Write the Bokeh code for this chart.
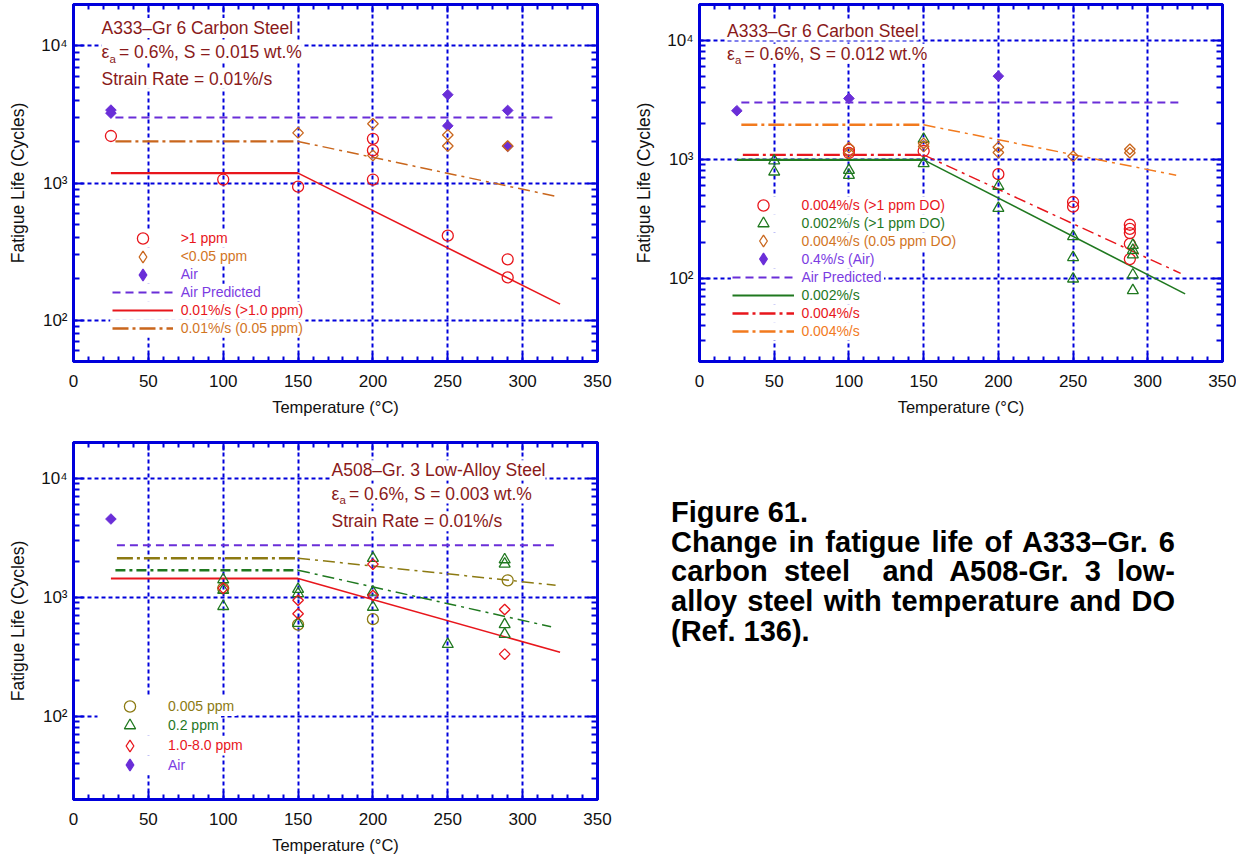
import numpy as np
from bokeh.plotting import figure
from bokeh.models import (FixedTicker, LinearAxis, LogAxis, Range1d, Label,
                          Legend, LegendItem, Div, BoxAnnotation, CustomJSTickFormatter)
from bokeh.core.properties import value
from bokeh.layouts import column, row
from bokeh.embed import file_html
from bokeh.resources import INLINE

# ---------------- axes / ticks ----------------
x_major = [0, 50, 100, 150, 200, 250, 300, 350]
x_minor = [v for v in range(10, 350, 10) if v % 50]
x_grid = [50, 100, 150, 200, 250, 300]
y_major = [100, 1000, 10000]
y_labels = {100: "10\u00b2", 1000: "10\u00b3", 10000: "10\u2074"}
y_minor = [20, 30, 40, 50, 60, 70, 80, 90, 200, 300, 400, 500, 600, 700, 800, 900,
           2000, 3000, 4000, 5000, 6000, 7000, 8000, 9000, 20000]

# ---------------- panel 1: A333-Gr 6, S = 0.015 wt.% ----------------
a_gt1_T = [25, 100, 150, 200, 200, 200, 250, 290, 290]
a_gt1_N = [2200, 1060, 940, 2100, 1730, 1060, 413, 278, 205]
a_lo_T = [150, 200, 200, 250, 250, 290]
a_lo_N = [2320, 2700, 1590, 2240, 1860, 1860]
a_air_T = [25, 25, 250, 250, 290, 290]
a_air_N = [3400, 3230, 4400, 2610, 3380, 1850]
a_pred_T = [28, 322]
a_pred_N = [3000, 3000]
a_fit1_T = [25, 150, 325]
a_fit1_N = [1180, 1180, 131]
a_fit2_T = [28, 150, 322]
a_fit2_N = [2010, 2010, 800]

# ---------------- panel 2: A333-Gr 6, S = 0.012 wt.% ----------------
b_r_T = [100, 100, 150, 200, 250, 250, 288, 288, 288, 288, 288]
b_r_N = [1200, 1130, 1175, 750, 438, 400, 282, 260, 240, 195, 145]
b_g_T = [50, 50, 100, 100, 150, 150, 200, 200, 250, 250, 250, 290, 290, 290, 290, 290]
b_g_N = [975, 785, 810, 735, 1480, 922, 596, 388, 225, 150, 99, 190, 172, 158, 107, 79]
b_o_T = [100, 100, 150, 150, 200, 200, 250, 288, 288]
b_o_N = [1255, 1130, 1360, 1280, 1265, 1140, 1060, 1215, 1135]
b_air_T = [25, 100, 200]
b_air_N = [2560, 3250, 5000]
b_pred_T = [28, 322]
b_pred_N = [3000, 3000]
b_fitg_T = [25, 150, 325]
b_fitg_N = [990, 990, 74]
b_fitr_T = [29, 150, 322]
b_fitr_N = [1090, 1090, 110]
b_fito_T = [28, 150, 319]
b_fito_N = [1950, 1950, 735]

# ---------------- panel 3: A508-Gr. 3, S = 0.003 wt.% ----------------
c_o_T = [100, 150, 200, 290]
c_o_N = [1190, 590, 655, 1390]
c_g_T = [100, 100, 100, 150, 150, 150, 200, 200, 200, 250, 288, 288, 288, 288]
c_g_N = [1410, 1150, 840, 1170, 1075, 605, 2130, 1110, 828, 403, 2075, 1910, 592, 490]
c_r_T = [100, 150, 150, 200, 200, 288, 288]
c_r_N = [1195, 945, 728, 1900, 1035, 790, 333]
c_air_T = [25]
c_air_N = [4550]
c_pred_T = [29, 322]
c_pred_N = [2740, 2740]
c_fitr_T = [25, 150, 325]
c_fitr_N = [1440, 1440, 345]
c_fitg_T = [28, 150, 319]
c_fitg_N = [1690, 1690, 566]
c_fito_T = [29, 150, 322]
c_fito_N = [2130, 2130, 1265]

caption_lines = ["Figure 61.",
                 "Change in fatigue life of A333\u2013Gr. 6",
                 "carbon steel\u00a0 and A508-Gr. 3 low-",
                 "alloy steel with temperature and DO",
                 "(Ref. 136)."]

# ---------------- styling ----------------
FONT = "Liberation Sans"
BLUE = "#0000DC"
RED = "#E8161C"
ORANGE = "#C9661C"
ORANGE_T = "#D2751F"
ORANGE_L = "#F27A1E"
PURPLE = "#6A2ED8"
PURPLE_T = "#7B3CE2"
DARKRED = "#8A1A1A"
GREEN = "#1F781F"
OLIVE = "#8C7A12"
YMAX = 20000.0
LOGMAX = np.log10(YMAX)
DIMS = {}

CW = {"0": .556, "1": .556, "2": .556, "3": .556, "4": .556, "5": .556, "6": .556,
      "7": .556, "8": .556, "9": .556, ".": .278, "%": .889, "/": .278, "s": .5,
      " ": .278, "(": .333, ")": .333, ">": .584, "<": .584, "p": .556, "m": .833,
      "D": .722, "O": .778, "A": .667, "i": .222, "r": .333, "P": .667, "e": .556,
      "d": .556, "c": .5, "t": .278, "-": .333}


def text_w(s, size):
    return sum(CW.get(ch, 0.556) for ch in s) * size


def make_panel(fw, fh, ymin, left, right, top, bottom):
    p = figure(frame_width=fw, frame_height=fh, x_range=Range1d(0, 350),
               y_range=Range1d(ymin, YMAX), y_axis_type="log",
               output_backend="svg", toolbar_location=None,
               min_border_left=left, min_border_right=right,
               min_border_top=top, min_border_bottom=bottom,
               background_fill_color="white", border_fill_color="white")
    p.outline_line_color = BLUE
    p.outline_line_width = 3
    p.outline_line_alpha = 1.0
    xa = p.xaxis[0]
    ya = p.yaxis[0]
    xa.ticker = FixedTicker(ticks=x_major, minor_ticks=x_minor)
    ya.ticker = FixedTicker(ticks=y_major, minor_ticks=y_minor)
    ya.major_label_overrides = y_labels
    blank = CustomJSTickFormatter(code="return ''")
    top_ax = LinearAxis(ticker=FixedTicker(ticks=x_major, minor_ticks=x_minor), formatter=blank)
    right_ax = LogAxis(ticker=FixedTicker(ticks=y_major, minor_ticks=y_minor), formatter=blank)
    p.add_layout(top_ax, "above")
    p.add_layout(right_ax, "right")
    for ax in (xa, ya, top_ax, right_ax):
        ax.axis_line_color = BLUE
        ax.axis_line_width = 3
        ax.major_tick_line_color = BLUE
        ax.minor_tick_line_color = BLUE
        ax.major_tick_line_width = 2
        ax.minor_tick_line_width = 2
        ax.major_tick_out = 0
        ax.minor_tick_out = 0
    for ax in (xa, top_ax):
        ax.major_tick_in = 8
        ax.minor_tick_in = 5
    for ax in (ya, right_ax):
        ax.major_tick_in = 10
        ax.minor_tick_in = 6
    for ax in (top_ax, right_ax):
        ax.major_label_text_font_size = "1px"
        ax.major_label_standoff = 0
    for ax in (xa, ya):
        ax.major_label_text_font = FONT
        ax.major_label_text_font_size = "17px"
        ax.major_label_text_color = "#111111"
        ax.axis_label_text_font = FONT
        ax.axis_label_text_font_style = "normal"
        ax.axis_label_text_color = "#111111"
    xa.axis_label = "Temperature (\u00b0C)"
    xa.axis_label_text_font_size = "16.5px"
    xa.major_label_standoff = 13
    xa.axis_label_standoff = 8
    ya.axis_label = "Fatigue Life (Cycles)"
    ya.axis_label_text_font_size = "17.5px"
    ya.major_label_standoff = 6
    ya.axis_label_standoff = 10
    p.xgrid[0].ticker = FixedTicker(ticks=x_grid)
    p.ygrid[0].ticker = FixedTicker(ticks=y_major)
    for g in (p.xgrid[0], p.ygrid[0]):
        g.grid_line_color = BLUE
        g.grid_line_width = 2
        g.grid_line_dash = "4 3"
        g.grid_line_alpha = 1.0
    DIMS[p.id] = (fw, fh, ymin)
    return p


def to_data(p, px_x, px_top):
    fw, fh, ymin = DIMS[p.id]
    x = px_x / fw * 350.0
    ly = LOGMAX - px_top / fh * (LOGMAX - np.log10(ymin))
    return float(x), float(10 ** ly)


def add_text(p, px_x, px_top, text, size="17.5px", bg=True):
    x, y = to_data(p, px_x, px_top)
    kw = dict(x=x, y=y, text=text, text_font=FONT, text_font_size=size,
              text_color=DARKRED, text_baseline="middle", text_align="left")
    if bg:
        kw.update(background_fill_color="white", background_fill_alpha=1.0)
    p.add_layout(Label(**kw))


def add_eps_line(p, px_x, px_top, rest):
    add_text(p, px_x, px_top, "\u03b5\u00a0\u00a0" + rest)
    add_text(p, px_x + 8, px_top + 6.5, "a", size="11.5px", bg=False)


def add_bg(p, l, r, t, b):
    x0, y0 = to_data(p, l, b)
    x1, y1 = to_data(p, r, t)
    p.add_layout(BoxAnnotation(left=x0, right=x1, bottom=y0, top=y1,
                               fill_color="white", fill_alpha=1.0, line_alpha=0))


def add_legend_rows(p, rows, gx, c0, step, gw, standoff):
    fh = DIMS[p.id][1]
    half = step / 2.0
    for i, (r, label, color, gh) in enumerate(rows):
        c = c0 + step * i
        add_bg(p, gx - 2, gx + gw + standoff + text_w(label, 14) + 2, c - half, c + half)
    for i, (r, label, color, gh) in enumerate(rows):
        c = c0 + step * i
        h = max(gh, 17)
        leg = Legend(items=[LegendItem(label=value(label), renderers=[r])],
                     location=(float(gx), float(fh - c - h / 2.0)), orientation="vertical",
                     glyph_width=gw, glyph_height=gh, label_height=14,
                     label_standoff=standoff, padding=0, margin=0, spacing=0,
                     background_fill_alpha=0, border_line_alpha=0,
                     label_text_font=FONT, label_text_font_size="14px",
                     label_text_color=color)
        p.add_layout(leg)


def open_marker(p, T, N, marker, color, size, angle=0.0):
    return p.scatter(T, N, marker=marker, size=size, angle=angle, line_color=color,
                     fill_color=None, line_width=1.3)


def legend_diamond(p, T, N, color, filled):
    # key glyph for the legend: same data as the diamonds, drawn at zero size in the plot
    # (the legend sizes its sample from the key box, so it shows a diamond there)
    return p.scatter(T, N, marker="diamond", size=0, line_color=color,
                     fill_color=color if filled else None, line_width=1.3)


def two_part(p, T, N, color, dash_h, dash_s, w_h=2.4, w_s=1.5):
    rh = p.line(T[:2], N[:2], line_color=color, line_width=w_h, line_dash=dash_h)
    p.line(T[1:], N[1:], line_color=color, line_width=w_s, line_dash=dash_s)
    return rh


DIAM = np.pi / 4
PRED_DASH = "8 5"
LONG_DD = "16 4 3 4"
SLOPE_DD = "12 5 3 5"
FH = 357

# ======================= panel 1 =======================
p1 = make_panel(524, FH, 50, 73, 34, 4, 71)
r1_pred = p1.line(a_pred_T, a_pred_N, line_color=PURPLE, line_width=2, line_dash=PRED_DASH)
r1_fit1 = two_part(p1, a_fit1_T, a_fit1_N, RED, "solid", "solid", 2.2, 1.6)
r1_fit2 = two_part(p1, a_fit2_T, a_fit2_N, ORANGE, LONG_DD, SLOPE_DD)
r1_air = p1.scatter(a_air_T, a_air_N, marker="square", angle=DIAM, size=7.5,
                    line_color=PURPLE, fill_color=PURPLE)
r1_lo = open_marker(p1, a_lo_T, a_lo_N, "square", ORANGE, 7.5, DIAM)
r1_gt1 = open_marker(p1, a_gt1_T, a_gt1_N, "circle", RED, 11)
k1_lo = legend_diamond(p1, a_lo_T, a_lo_N, ORANGE, False)
k1_air = legend_diamond(p1, a_air_T, a_air_N, PURPLE, True)

add_text(p1, 28, 23.6, "A333\u2013Gr 6 Carbon Steel")
add_eps_line(p1, 28, 47.6, "= 0.6%, S = 0.015 wt.%")
add_text(p1, 28, 74.3, "Strain Rate = 0.01%/s")

leg1 = [(r1_gt1, ">1 ppm", RED, 28), (k1_lo, "<0.05 ppm", ORANGE_T, 29),
        (k1_air, "Air", PURPLE_T, 29), (r1_pred, "Air Predicted", PURPLE_T, 28),
        (r1_fit1, "0.01%/s (>1.0 ppm)", RED, 28), (r1_fit2, "0.01%/s (0.05 ppm)", ORANGE_T, 28)]
add_legend_rows(p1, leg1, 38.7, 234.3, 18.0, 61, 8)

# ======================= panel 2 =======================
p2 = make_panel(523, FH, 20, 66, 14, 4, 71)
r2_pred = p2.line(b_pred_T, b_pred_N, line_color=PURPLE, line_width=2, line_dash=PRED_DASH)
r2_fito = two_part(p2, b_fito_T, b_fito_N, ORANGE_L, LONG_DD, SLOPE_DD)
r2_fitr = two_part(p2, b_fitr_T, b_fitr_N, RED, LONG_DD, SLOPE_DD)
r2_fitg = two_part(p2, b_fitg_T, b_fitg_N, GREEN, "solid", "solid", 2.2, 1.6)
r2_r = open_marker(p2, b_r_T, b_r_N, "circle", RED, 11)
r2_g = open_marker(p2, b_g_T, b_g_N, "triangle", GREEN, 11)
r2_o = open_marker(p2, b_o_T, b_o_N, "square", ORANGE, 7.5, DIAM)
r2_air = p2.scatter(b_air_T, b_air_N, marker="square", angle=DIAM, size=7.5,
                    line_color=PURPLE, fill_color=PURPLE)
k2_o = legend_diamond(p2, b_o_T, b_o_N, ORANGE, False)
k2_air = legend_diamond(p2, b_air_T, b_air_N, PURPLE, True)

add_text(p2, 27.5, 26, "A333\u2013Gr 6 Carbon Steel")
add_eps_line(p2, 27.5, 49.3, "= 0.6%, S = 0.012 wt.%")

leg2 = [(r2_r, "0.004%/s (>1 ppm DO)", RED, 28), (r2_g, "0.002%/s (>1 ppm DO)", GREEN, 28),
        (k2_o, "0.004%/s (0.05 ppm DO)", ORANGE_T, 29), (k2_air, "0.4%/s (Air)", PURPLE_T, 29),
        (r2_pred, "Air Predicted", PURPLE_T, 28), (r2_fitg, "0.002%/s", GREEN, 28),
        (r2_fitr, "0.004%/s", RED, 28), (r2_fito, "0.004%/s", ORANGE_L, 28)]
add_legend_rows(p2, leg2, 33.4, 201.0, 17.95, 62, 7)

# ======================= panel 3 =======================
p3 = make_panel(524, FH, 20, 73, 34, 10, 58)
p3.line(c_pred_T, c_pred_N, line_color=PURPLE, line_width=2, line_dash=PRED_DASH)
two_part(p3, c_fito_T, c_fito_N, OLIVE, LONG_DD, SLOPE_DD)
two_part(p3, c_fitg_T, c_fitg_N, GREEN, "10 4 3 4", SLOPE_DD)
two_part(p3, c_fitr_T, c_fitr_N, RED, "solid", "solid", 2.2, 1.6)
r3_o = open_marker(p3, c_o_T, c_o_N, "circle", OLIVE, 11)
r3_g = open_marker(p3, c_g_T, c_g_N, "triangle", GREEN, 11)
r3_r = open_marker(p3, c_r_T, c_r_N, "square", RED, 7.5, DIAM)
r3_air = p3.scatter(c_air_T, c_air_N, marker="square", angle=DIAM, size=7.5,
                    line_color=PURPLE, fill_color=PURPLE)
k3_r = legend_diamond(p3, c_r_T, c_r_N, RED, False)
k3_air = legend_diamond(p3, c_air_T, c_air_N, PURPLE, True)

add_text(p3, 258, 27.7, "A508\u2013Gr. 3 Low-Alloy Steel")
add_eps_line(p3, 258, 51, "= 0.6%, S = 0.003 wt.%")
add_text(p3, 258, 78.7, "Strain Rate = 0.01%/s")

leg3 = [(r3_o, "0.005 ppm", OLIVE, 28), (r3_g, "0.2 ppm", GREEN, 28),
        (k3_r, "1.0-8.0 ppm", RED, 29), (k3_air, "Air", PURPLE_T, 29)]
add_legend_rows(p3, leg3, 26, 263.7, 19.7, 61, 8)

# ======================= caption =======================
inner = ""
for i, line in enumerate(caption_lines):
    if 0 < i < len(caption_lines) - 1:
        st = "text-align: justify; text-align-last: justify;"
    else:
        st = "text-align: left;"
    inner += '<div style="%s">%s</div>' % (st, line)
cap_html = ('<div style="font-family: \'Liberation Sans\', Arial, sans-serif; font-weight: bold; '
            'font-size: 29px; line-height: 29.7px; color: #000; width: 504px; '
            'margin-left: 40px; margin-top: 66px;">' + inner + '</div>')
caption = Div(text=cap_html, width=580, height=425, margin=0)

layout = column(row(p1, p2), row(p3, caption))

with open("out.html", "w") as f:
    f.write(file_html(layout, INLINE))
